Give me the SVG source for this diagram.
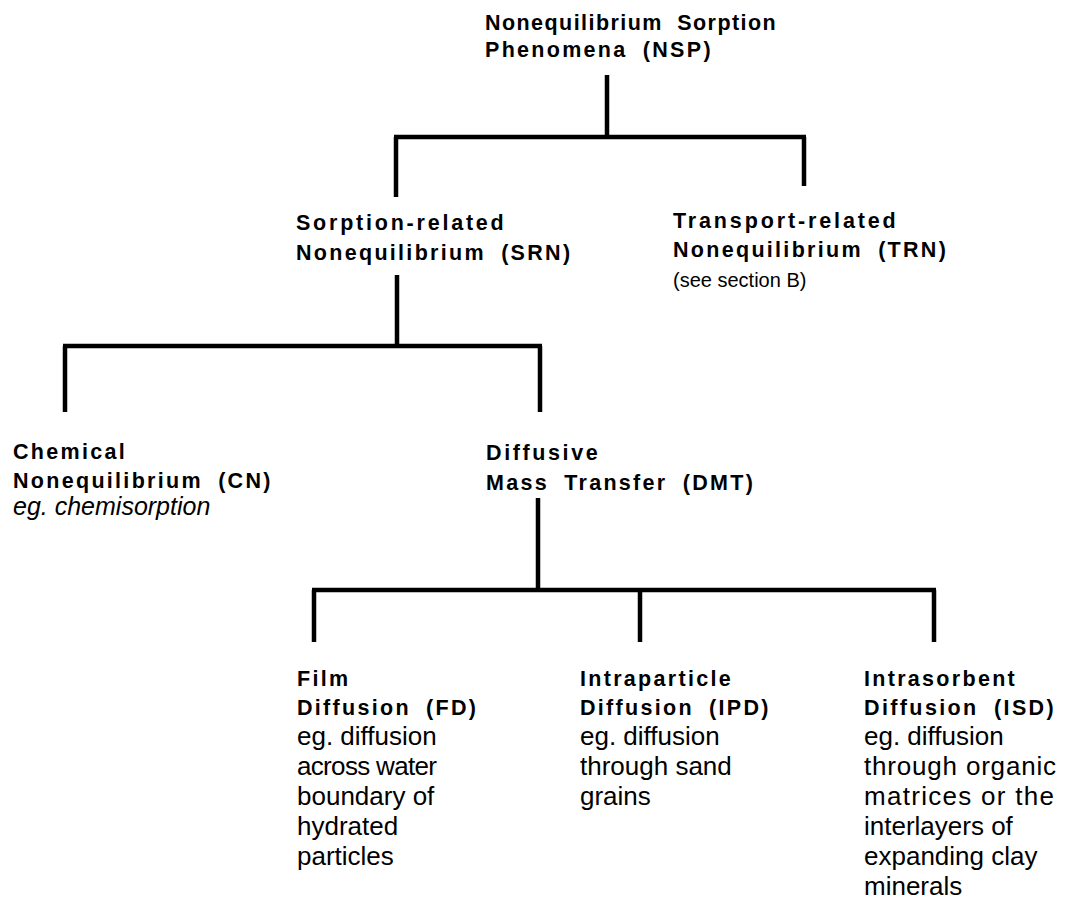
<svg xmlns="http://www.w3.org/2000/svg" width="1068" height="903" viewBox="0 0 1068 903">
<style>
.h{font-family:"Liberation Sans",Arial,sans-serif;font-weight:bold;font-size:21.5px;letter-spacing:2.3px;word-spacing:7px;fill:#000}
.r{font-family:"Liberation Sans",Arial,sans-serif;font-size:26px;fill:#000}
.s{font-family:"Liberation Sans",Arial,sans-serif;font-size:20px;fill:#000}
.i{font-style:italic;font-size:25px}
.c{stroke:#000;stroke-width:4.5;fill:none;stroke-linecap:butt}
</style>
<rect width="1068" height="903" fill="#fff"/>
<g id="connectors">
<path class="c" d="M607 75V137M394 137H806M396 137V197M804 137V186"/>
<path class="c" d="M397 275V346M63 346H542M65 346V412M540 346V412"/>
<path class="c" d="M538 498V590M312 590H936M314 590V642M640 590V642M934 590V642"/>
</g>
<g id="NSP"><text class="h" x="485" y="30" textLength="293">Nonequilibrium Sorption</text><text class="h" x="485" y="57">Phenomena (NSP)</text></g>
<g id="SRN"><text class="h" x="296" y="230" textLength="210">Sorption-related</text><text class="h" x="296" y="260">Nonequilibrium (SRN)</text></g>
<g id="TRN"><text class="h" x="673" y="228" textLength="225">Transport-related</text><text class="h" x="673" y="257">Nonequilibrium (TRN)</text><text class="s" x="673" y="287">(see section B)</text></g>
<g id="CN"><text class="h" x="13" y="459">Chemical</text><text class="h" x="13" y="488">Nonequilibrium (CN)</text><text class="r i" x="13" y="515">eg. chemisorption</text></g>
<g id="DMT"><text class="h" x="486" y="460" textLength="114">Diffusive</text><text class="h" x="486" y="490">Mass Transfer (DMT)</text></g>
<g id="FD"><text class="h" x="297" y="686">Film</text><text class="h" x="297" y="715">Diffusion (FD)</text>
<text class="r" x="297" y="745">eg. diffusion</text><text class="r" x="297" y="775" textLength="140">across water</text><text class="r" x="297" y="805">boundary of</text><text class="r" x="297" y="835">hydrated</text><text class="r" x="297" y="865">particles</text></g>
<g id="IPD"><text class="h" x="580" y="686">Intraparticle</text><text class="h" x="580" y="715">Diffusion (IPD)</text>
<text class="r" x="580" y="745">eg. diffusion</text><text class="r" x="580" y="775">through sand</text><text class="r" x="580" y="805">grains</text></g>
<g id="ISD"><text class="h" x="864" y="686">Intrasorbent</text><text class="h" x="864" y="715" textLength="192">Diffusion (ISD)</text>
<text class="r" x="864" y="745">eg. diffusion</text><text class="r" x="864" y="775" textLength="192">through organic</text><text class="r" x="864" y="805" textLength="190">matrices or the</text><text class="r" x="864" y="835">interlayers of</text><text class="r" x="864" y="865">expanding clay</text><text class="r" x="864" y="895">minerals</text></g>
</svg>
